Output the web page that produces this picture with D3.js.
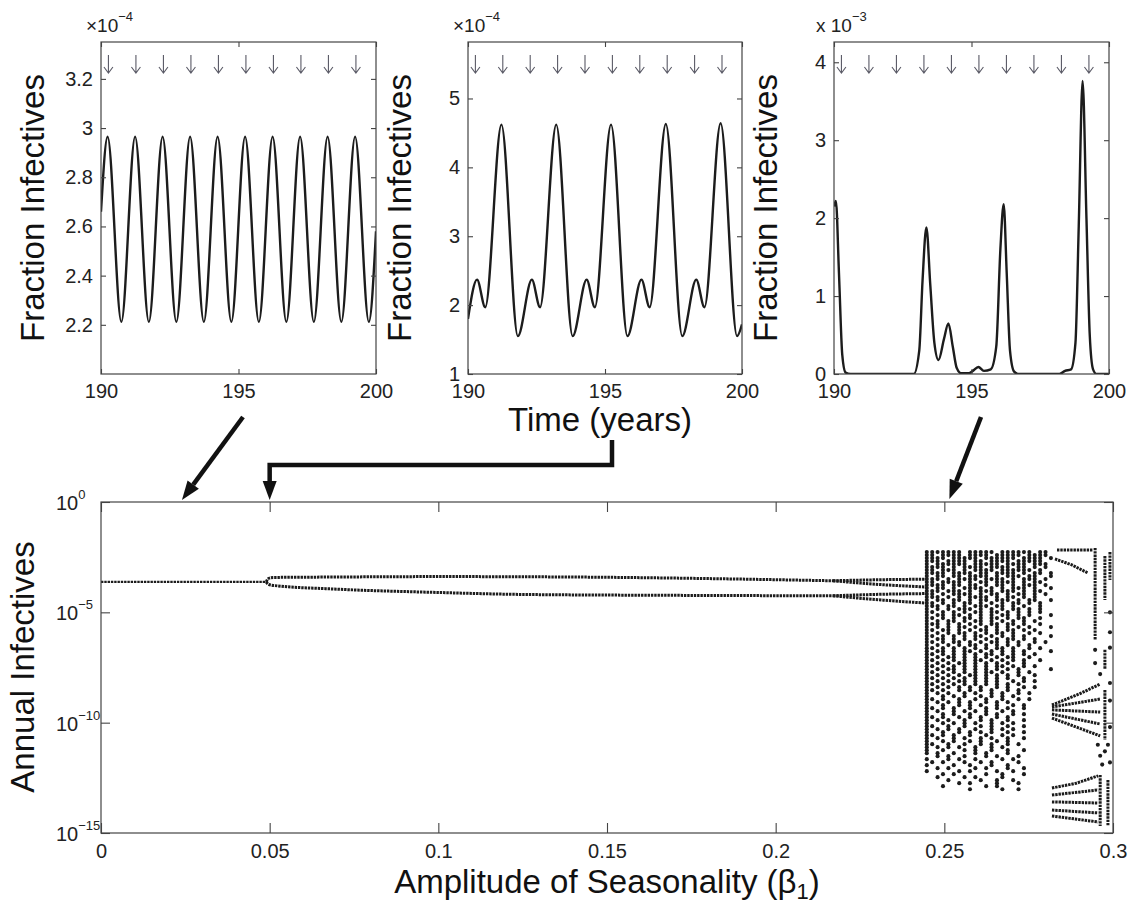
<!DOCTYPE html>
<html>
<head>
<meta charset="utf-8">
<script src="https://cdn.jsdelivr.net/npm/d3@7"></script>
<style>
body { margin: 0; background: #fff; }
svg { font-family: "Liberation Sans", Arial, Helvetica, sans-serif; }
</style>
</head>
<body>
<svg id="fig" width="1141" height="905"></svg>
<script>
// ---------- Data ----------
// top panels: time (years) and fraction infectives (in units of the axis multiplier)
const yearTicks = [190, 195, 200];
const arrowYears = [190.27, 191.27, 192.27, 193.27, 194.27, 195.27, 196.27, 197.27, 198.27, 199.27];

const yearsA = [190, 190.24, 190.74, 191.24, 191.74, 192.24, 192.74, 193.24, 193.74, 194.24, 194.74,
    195.24, 195.74, 196.24, 196.74, 197.24, 197.74, 198.24, 198.74, 199.24, 199.74, 200];
const fracA = [2.66, 2.965, 2.212, 2.965, 2.212, 2.965, 2.212, 2.965, 2.212, 2.965, 2.212,
    2.965, 2.212, 2.965, 2.212, 2.965, 2.212, 2.965, 2.212, 2.965, 2.212, 2.58];
const ticksA = [2.2, 2.4, 2.6, 2.8, 3, 3.2];

const yearsB = [190, 190.33, 190.63, 191.22, 191.82, 192.33, 192.63, 193.22, 193.82, 194.33, 194.63,
    195.22, 195.82, 196.33, 196.63, 197.22, 197.82, 198.33, 198.63, 199.22, 199.82, 200];
const fracB = [1.80, 2.37, 1.97, 4.62, 1.55, 2.37, 1.97, 4.62, 1.55, 2.37, 1.97,
    4.62, 1.55, 2.37, 1.97, 4.63, 1.55, 2.37, 1.97, 4.64, 1.55, 1.72];
const ticksB = [1, 2, 3, 4, 5];

const yearsC = [190, 190.07, 190.18, 190.3, 190.42, 190.6, 192.9, 193.1, 193.22, 193.36, 193.5, 193.65,
    193.8, 194.0, 194.16, 194.32, 194.46, 194.62, 194.9, 195.05, 195.25, 195.45, 195.7, 195.9,
    196.05, 196.17, 196.28, 196.4, 196.55, 196.7, 198.2, 198.4, 198.62, 198.78, 198.9, 199.04,
    199.18, 199.3, 199.42, 199.55, 200];
const fracC = [2.15, 2.22, 1.3, 0.25, 0.02, 0, 0, 0.3, 1.2, 1.88, 1.15, 0.4,
    0.18, 0.45, 0.65, 0.35, 0.08, 0.01, 0.01, 0.04, 0.09, 0.04, 0.06, 0.35,
    1.6, 2.18, 1.3, 0.3, 0.03, 0, 0, 0.04, 0.06, 0.4, 1.9, 3.76,
    2.0, 0.5, 0.06, 0, 0];
const ticksC = [0, 1, 2, 3, 4];

// bottom panel: amplitude of seasonality vs log10(annual infectives)
const betaTicks = [0, 0.05, 0.1, 0.15, 0.2, 0.25, 0.3];
const betaTickLabels = ["0", "0.05", "0.1", "0.15", "0.2", "0.25", "0.3"];
const logTicks = [0, -5, -10, -15];

const branchSingle = [[0, -3.62], [0.049, -3.62]];
const branchUpper = [[0.049, -3.62], [0.0495, -3.48], [0.051, -3.42], [0.07, -3.40], [0.10, -3.38],
    [0.14, -3.40], [0.18, -3.47], [0.217, -3.57]];
const branchUpperA = [[0.217, -3.57], [0.232, -3.52], [0.2445, -3.50]];
const branchUpperB = [[0.217, -3.57], [0.232, -3.75], [0.2445, -3.85]];
const branchLower = [[0.049, -3.62], [0.0495, -3.72], [0.051, -3.78], [0.07, -3.95], [0.10, -4.10],
    [0.125, -4.19], [0.17, -4.23], [0.217, -4.25]];
const branchLowerA = [[0.217, -4.25], [0.232, -4.18], [0.2445, -4.15]];
const branchLowerB = [[0.217, -4.25], [0.232, -4.45], [0.2445, -4.58]];

// chaotic band, read off as a bitmap: one string per row (top = log10 -2.27, 0.136 per row),
// one char per beta column (first = 0.2448, 0.0016 per column)
const chaosBeta0 = 0.2448, chaosBetaStep = 0.0016;
const chaosLog0 = -2.27, chaosLogStep = 0.136;
const chaosRows = [
    "#######.#####.######.##.",
    "##.####.####.#####.####.",
    "####.#####.######.####.#",
    "###.####.##.####.#####..",
    "#.######.#####.####.###.",
    "####.#.####.####.##.#.#.",
    "##.###.#.####.######.#..",
    "####.####.##.####.#.##.#",
    "#.##.##.####.#.###.##..#",
    "###.#.####.####.#.###.#.",
    "##.####.#.##.####.#.##..",
    "####.##.##.#.##.#.###.#.",
    "#.##.#.####.#.#.###.#..#",
    "###.###.#.###.###.#.##..",
    "##.#.####.#.##.#.##.#.#.",
    "###.#.#.####.#.##.#.#...",
    "#.##.##.#.##.###.#.##..#",
    "##.#.#.##.#.#.#.##.#.#..",
    "###.##.#.###.##.#.#..#..",
    "#.#.#.###.#.#.#.##.#.#..",
    "##.#.#.#.##.##.#.#.#.#..",
    "#.##.##.#.#.#.##.#.#...#",
    "##.#.#.##.#.##.#.##..#..",
    "#.#.##.#.##.#.#.#.#.#...",
    "###.#.#.#.#.##.##.#..#..",
    "#.#.#.##.#.#.#.#.#.#...#",
    "##.##.#.#.##.#.##.#.#...",
    "#.#.#.##.#.#.##.#..#.#..",
    "##.#.#.#.##.#.#.#.#....#",
    "#.##.#.#.#.#.#.##.#.#...",
    "##.#.##.#.#.##.#.#..#.#.",
    "#.#.#.#.##.#.#.#.#.#....",
    "##.#.#.#.#.#.##.#..#.#..",
    "#.##.#.##.#.#.#.#.#....#",
    "##.#.#.#.#.##.#.#.#.#...",
    "#.#.##.#.#.#.#.##..#....",
    "##.#.#.#.##.#.#.#.#..#..",
    "#.#.#.##.#.#.#.#..#.....",
    "##.#.#.#.#.#.##.#.#.#...",
    "#.#.##.#.#.#.#.#.#.....#",
    "##.#.#.#.#.##.#..#.#....",
    "#.#.#.#.##.#.#.#.#..#...",
    "##.#.#.#.#.#.#.#..#.....",
    "#.#.#.##.#.#.#..#.#.#...",
    "##.#.#.#.#.#.#.#.#......",
    "#.#.#.#.#.#..#.#..#.#...",
    "##.#..#.#.#.#..#.#......",
    "#.#.#..#.#..#.#..#.#....",
    "#..#.#.#..#.#.#.#.......",
    "##.#..#..#.#..#..#.#....",
    "#.#.#.#.#..#.#.#........",
    "#..#..#.#.#..#..#.#.....",
    "##.#.#..#..#.#.#..#.....",
    "#.#..#.#.#.#..#.#.......",
    "#..#.#..#..#.#..#.#.....",
    "##.#..#.#.#..#.#........",
    "#.#.#..#..#.#..#..#.....",
    "#..#.#.#.#..#.#.#.......",
    "##..#..#..#.#..#..#.....",
    "#.#.#.#..#..#.#.#.......",
    "#..#..#.#.#.#..#..#.....",
    "##.#.#..#..#..#.#.......",
    "#.#..#.#..#.#..#..#.....",
    "#..#.#..#.#..#.#........",
    "##..#..#..#.#..#.#......",
    "#.#.#.#..#..#.#.........",
    "#..#...#.#..#..#..#.....",
    "#.#..#...#.#...#........",
    "..#.#..#...#.#...#......",
    "#...#.#..#....#.#.......",
    ".#.#...#..#.#....#......",
    "#....#..#...#..#........",
    "..#.#....#.#...#..#.....",
    "#.....#.#....#..#.......",
    "...#.#.....#..#...#.....",
    "..#....#.#....#.........",
    "....#.....#..#..#.......",
    "......#.#....#...#......",
    "...#.......#.#..........",
    "........#.....#..#......"
];

// periodic window near beta = 0.28-0.30: dotted curves and isolated points
const windowCurves = [
    [[0.2834, -2.17], [0.2941, -2.17]],
    [[0.2828, -2.58], [0.2878, -2.85], [0.2926, -3.22]],
    [[0.2947, -2.08], [0.2947, -6.25]],
    [[0.2976, -2.45], [0.2976, -4.44]],
    [[0.2976, -6.7], [0.2976, -7.6]],
    [[0.2991, -2.27], [0.2991, -3.53]],
    [[0.2819, -9.20], [0.2900, -8.70], [0.2962, -8.25]],
    [[0.2819, -9.29], [0.2962, -8.93]],
    [[0.2819, -9.42], [0.2962, -9.52]],
    [[0.2819, -9.61], [0.2962, -10.06]],
    [[0.2819, -9.79], [0.2962, -10.60]],
    [[0.2976, -8.52], [0.2976, -10.78]],
    [[0.2819, -12.96], [0.2890, -12.75], [0.2956, -12.41]],
    [[0.2819, -13.28], [0.2956, -13.05]],
    [[0.2819, -13.59], [0.2956, -13.64]],
    [[0.2819, -13.96], [0.2956, -14.09]],
    [[0.2819, -14.23], [0.2956, -14.50]],
    [[0.2962, -12.37], [0.2962, -14.68]],
    [[0.2985, -12.6], [0.2985, -14.68]]
];
const windowPoints = [[0.2947, -6.7], [0.2947, -7.3], [0.2991, -5.0], [0.2991, -5.9], [0.2991, -6.6],
    [0.2962, -7.8], [0.2955, -11.0], [0.2976, -11.3], [0.2991, -11.8], [0.2968, -11.9],
    [0.2991, -8.2], [0.2991, -9.0], [0.2991, -10.2], [0.2985, -11.0], [0.2962, -11.5]];

// ---------- Drawing ----------
const svg = d3.select("#fig");
const INK = "#1c1c1c";
const AXIS = "#444";

function styleAxis(g, fontSize) {
    g.attr("font-family", null).attr("font-size", null);
    g.selectAll(".domain").remove();
    g.selectAll(".tick line").attr("stroke", AXIS).attr("stroke-width", 1.1);
    g.selectAll(".tick text").attr("fill", "#222").style("font-size", fontSize + "px");
}

function drawPanel(p) {
    const x = d3.scaleLinear().domain([190, 200]).range([p.left, p.left + p.width]);
    const y = d3.scaleLinear().domain(p.yDomain).range([p.top + p.height, p.top]);
    const g = svg.append("g");

    g.append("clipPath").attr("id", "clip-" + p.id)
        .append("rect")
        .attr("x", p.left).attr("y", p.top)
        .attr("width", p.width).attr("height", p.height);

    const pts = p.years.map((t, i) => [t, p.values[i]]);
    g.append("path")
        .datum(pts)
        .attr("clip-path", `url(#clip-${p.id})`)
        .attr("fill", "none")
        .attr("stroke", INK)
        .attr("stroke-width", 2.4)
        .attr("d", d3.line().x(d => x(d[0])).y(d => y(d[1])).curve(d3.curveMonotoneX));

    // axes, MATLAB style box with inward ticks
    g.append("g").attr("transform", `translate(0,${p.top + p.height})`)
        .call(d3.axisBottom(x).tickValues(yearTicks).tickSize(-5).tickSizeOuter(0).tickPadding(10).tickFormat(d3.format("d")))
        .call(a => styleAxis(a, 20));
    g.append("g").attr("transform", `translate(0,${p.top})`)
        .call(d3.axisTop(x).tickValues(yearTicks).tickSize(-5).tickSizeOuter(0).tickFormat(""))
        .call(a => styleAxis(a, 20));
    g.append("g").attr("transform", `translate(${p.left},0)`)
        .call(d3.axisLeft(y).tickValues(p.yTicks).tickSize(-5).tickSizeOuter(0).tickPadding(8).tickFormat(d => String(d)))
        .call(a => styleAxis(a, 20));
    g.append("g").attr("transform", `translate(${p.left + p.width},0)`)
        .call(d3.axisRight(y).tickValues(p.yTicks).tickSize(-5).tickSizeOuter(0).tickFormat(""))
        .call(a => styleAxis(a, 20));

    g.append("rect")
        .attr("x", p.left).attr("y", p.top)
        .attr("width", p.width).attr("height", p.height)
        .attr("fill", "none").attr("stroke", AXIS).attr("stroke-width", 1.2);

    // yearly markers
    g.selectAll(".yr-arrow")
        .data(arrowYears)
        .enter()
        .append("path")
        .attr("class", "yr-arrow")
        .attr("fill", "none")
        .attr("stroke", "#5a5a66")
        .attr("stroke-width", 1.1)
        .attr("d", d => {
            const ax = x(d), t = p.top + 13, b = p.top + 31;
            return `M${ax},${t}V${b}M${ax - 4.5},${b - 6}L${ax},${b}L${ax + 4.5},${b - 6}`;
        });

    // axis multiplier
    const ex = g.append("text")
        .attr("x", p.left + p.expDx).attr("y", 32)
        .attr("fill", "#222").style("font-size", "19px");
    ex.append("tspan").text(p.expBase);
    ex.append("tspan").attr("dy", -11).style("font-size", "13px").text(p.expPow);

    g.append("text")
        .attr("transform", `translate(${p.left - 57},${p.top + p.height / 2}) rotate(-90)`)
        .attr("text-anchor", "middle")
        .attr("fill", "#111")
        .style("font-size", "33px")
        .text("Fraction Infectives");
}

drawPanel({ id: "a", left: 101, top: 42, width: 275, height: 332, yDomain: [2.0, 3.35],
    yTicks: ticksA, years: yearsA, values: fracA, expBase: "\u00d710", expPow: "\u22124", expDx: -15 });
drawPanel({ id: "b", left: 468, top: 42, width: 274, height: 332, yDomain: [1, 5.82],
    yTicks: ticksB, years: yearsB, values: fracB, expBase: "\u00d710", expPow: "\u22124", expDx: -15 });
drawPanel({ id: "c", left: 834, top: 42, width: 275, height: 332, yDomain: [0, 4.26],
    yTicks: ticksC, years: yearsC, values: fracC, expBase: "x 10", expPow: "\u22123", expDx: -18 });

svg.append("text")
    .attr("x", 600).attr("y", 431)
    .attr("text-anchor", "middle")
    .attr("fill", "#111")
    .style("font-size", "33px")
    .text("Time (years)");

// ---------- Bottom bifurcation diagram ----------
const bx = d3.scaleLinear().domain([0, 0.3]).range([101, 1113]);
const by = d3.scaleLog().domain([1e-15, 1]).range([833, 502]);
const bottom = svg.append("g");
const lineB = d3.line().x(d => bx(d[0])).y(d => by(Math.pow(10, d[1])));

function dotted(data, width, curve) {
    bottom.append("path")
        .datum(data)
        .attr("fill", "none")
        .attr("stroke", INK)
        .attr("stroke-width", width)
        .attr("stroke-dasharray", "2.4 0.9")
        .attr("d", lineB.curve(curve)(data));
}

dotted(branchSingle, 2.3, d3.curveLinear);
[branchUpper, branchLower, branchUpperA, branchUpperB, branchLowerA, branchLowerB]
    .forEach(b => dotted(b, 3, d3.curveMonotoneX));
windowCurves.forEach(c => dotted(c, 3, d3.curveLinear));

const chaosPts = [];
chaosRows.forEach((row, r) => {
    row.split("").forEach((ch, c) => {
        if (ch === "#") chaosPts.push([chaosBeta0 + c * chaosBetaStep, chaosLog0 - r * chaosLogStep]);
    });
});

bottom.selectAll(".pt")
    .data(chaosPts.concat(windowPoints))
    .enter()
    .append("circle")
    .attr("class", "pt")
    .attr("cx", d => bx(d[0]))
    .attr("cy", d => by(Math.pow(10, d[1])))
    .attr("r", 2.05)
    .attr("fill", INK);

// axes
bottom.append("g").attr("transform", "translate(0,833)")
    .call(d3.axisBottom(bx).tickValues(betaTicks).tickSize(-10).tickSizeOuter(0).tickPadding(11)
        .tickFormat((d, i) => betaTickLabels[i]))
    .call(a => styleAxis(a, 20));
bottom.append("g").attr("transform", "translate(0,502)")
    .call(d3.axisTop(bx).tickValues(betaTicks).tickSize(-10).tickSizeOuter(0).tickFormat(""))
    .call(a => styleAxis(a, 20));
const logVals = logTicks.map(e => Math.pow(10, e));
bottom.append("g").attr("transform", "translate(101,0)")
    .call(d3.axisLeft(by).tickValues(logVals).tickSize(-9).tickSizeOuter(0).tickFormat(""))
    .call(a => styleAxis(a, 20));
bottom.append("g").attr("transform", "translate(1113,0)")
    .call(d3.axisRight(by).tickValues(logVals).tickSize(-9).tickSizeOuter(0).tickFormat(""))
    .call(a => styleAxis(a, 20));
bottom.append("rect")
    .attr("x", 101).attr("y", 502).attr("width", 1012).attr("height", 331)
    .attr("fill", "none").attr("stroke", AXIS).attr("stroke-width", 1.2);

const ylab = bottom.selectAll(".ylab")
    .data(logTicks)
    .enter()
    .append("text")
    .attr("class", "ylab")
    .attr("x", 56)
    .attr("y", d => by(Math.pow(10, d)) + 8)
    .attr("fill", "#222")
    .style("font-size", "20px");
ylab.append("tspan").text("10");
ylab.append("tspan").attr("dy", -11).style("font-size", "13px").text(d => d === 0 ? "0" : "\u2212" + (-d));

bottom.append("text")
    .attr("transform", `translate(34,667) rotate(-90)`)
    .attr("text-anchor", "middle")
    .attr("fill", "#111")
    .style("font-size", "33px")
    .text("Annual Infectives");

const xlab = bottom.append("text")
    .attr("x", 607).attr("y", 893)
    .attr("text-anchor", "middle")
    .attr("fill", "#111")
    .style("font-size", "33px");
xlab.append("tspan").text("Amplitude of Seasonality (\u03b2");
xlab.append("tspan").attr("dy", 6).style("font-size", "22px").text("1");
xlab.append("tspan").attr("dy", -6).text(")");

// ---------- Connector arrows ----------
function connector(points) {
    const n = points.length;
    const [x1, y1] = points[n - 2], [x2, y2] = points[n - 1];
    const ang = Math.atan2(y2 - y1, x2 - x1);
    const len = 19, half = 7;
    const bxp = x2 - len * Math.cos(ang), byp = y2 - len * Math.sin(ang);
    const shaft = points.slice(0, n - 1).concat([[bxp, byp]]);
    svg.append("path")
        .attr("d", d3.line()(shaft))
        .attr("fill", "none")
        .attr("stroke", "#111")
        .attr("stroke-width", 4.5)
        .attr("stroke-linejoin", "miter");
    const px = -Math.sin(ang), py = Math.cos(ang);
    svg.append("path")
        .attr("d", `M${x2},${y2}L${bxp + half * px},${byp + half * py}L${bxp - half * px},${byp - half * py}Z`)
        .attr("fill", "#111");
}
connector([[243, 417], [bx(0.024), 500]]);
connector([[612, 440], [612, 465], [bx(0.05), 465], [bx(0.05), 500]]);
connector([[981, 417], [bx(0.2515), 499]]);
</script>
</body>
</html>
